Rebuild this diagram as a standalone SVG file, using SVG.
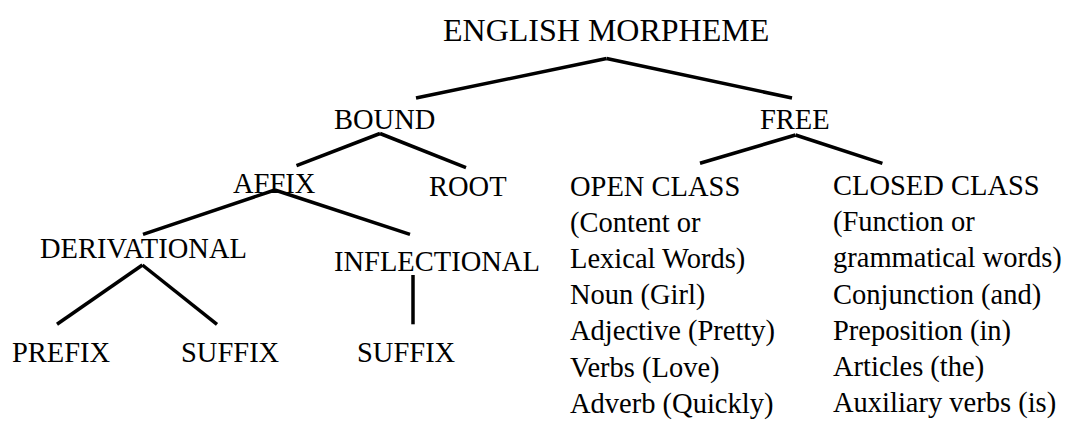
<svg xmlns="http://www.w3.org/2000/svg" width="1071" height="432" viewBox="0 0 1071 432">
<style>
text{font-family:"Liberation Serif","Times New Roman",serif;font-size:28.5px;fill:#000}
.title{font-size:32px}
.c line{stroke:#000;stroke-width:3.5;stroke-linecap:butt}
</style>
<rect width="1071" height="432" fill="#fff"/>
<g class="c" id="connectors">
<line x1="606.6" y1="58.5" x2="416" y2="98"/>
<line x1="606.6" y1="58.5" x2="792" y2="98"/>
<line x1="380" y1="133.5" x2="296.5" y2="165.7"/>
<line x1="380" y1="133.5" x2="466" y2="167.7"/>
<line x1="274.8" y1="190" x2="143" y2="234.3"/>
<line x1="274.8" y1="190" x2="410" y2="234.3"/>
<line x1="142.4" y1="265" x2="57" y2="324.3"/>
<line x1="142.4" y1="265" x2="217" y2="324.3"/>
<line x1="413" y1="275" x2="413" y2="324.3"/>
<line x1="795.5" y1="135" x2="700" y2="163.3"/>
<line x1="795.5" y1="135" x2="882.4" y2="163.3"/>
</g>
<g id="english-morpheme"><text class="title" x="443" y="41">ENGLISH MORPHEME</text></g>
<g id="bound"><text x="334" y="129.3">BOUND</text></g>
<g id="free"><text x="760" y="128.5">FREE</text></g>
<g id="affix"><text x="233" y="193.3">AFFIX</text></g>
<g id="root"><text x="429" y="196">ROOT</text></g>
<g id="derivational"><text x="40" y="258.3">DERIVATIONAL</text></g>
<g id="inflectional"><text x="334" y="271">INFLECTIONAL</text></g>
<g id="prefix"><text x="12" y="361.7">PREFIX</text></g>
<g id="suffix-derivational"><text x="181" y="361.7">SUFFIX</text></g>
<g id="suffix-inflectional"><text x="357" y="361.7">SUFFIX</text></g>
<g id="open-class"><text x="570">
<tspan x="570" y="195.5">OPEN CLASS</tspan>
<tspan x="570" y="231.7">(Content or</tspan>
<tspan x="570" y="267.9">Lexical Words)</tspan>
<tspan x="570" y="304.1">Noun (Girl)</tspan>
<tspan x="570" y="340.3">Adjective (Pretty)</tspan>
<tspan x="570" y="376.5">Verbs (Love)</tspan>
<tspan x="570" y="412.7">Adverb (Quickly)</tspan>
</text></g>
<g id="closed-class"><text x="833">
<tspan x="833" y="195">CLOSED CLASS</tspan>
<tspan x="833" y="231.2">(Function or</tspan>
<tspan x="833" y="267.4">grammatical words)</tspan>
<tspan x="833" y="303.6">Conjunction (and)</tspan>
<tspan x="833" y="339.8">Preposition (in)</tspan>
<tspan x="833" y="376">Articles (the)</tspan>
<tspan x="833" y="412.2">Auxiliary verbs (is)</tspan>
</text></g>
</svg>
